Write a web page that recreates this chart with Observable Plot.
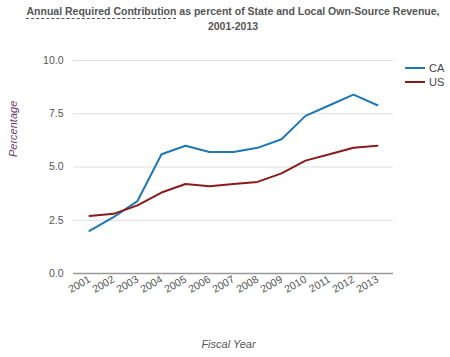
<!DOCTYPE html>
<html><head><meta charset="utf-8">
<script src="https://cdn.jsdelivr.net/npm/d3@7"></script>
<script src="https://cdn.jsdelivr.net/npm/@observablehq/plot@0.6"></script>
<style>
body{margin:0;background:#fff;font-family:"Liberation Sans",Arial,sans-serif;}
#wrap{position:relative;width:450px;height:357px;overflow:hidden;}
#title{position:absolute;left:8px;top:4px;width:450px;text-align:center;font-size:10.5px;font-weight:bold;color:#555;line-height:15px;white-space:nowrap;z-index:2;}
#title u{text-decoration:underline dashed #555;text-underline-offset:3px;color:#555;}
#legend{position:absolute;left:405px;top:61px;font-size:11px;color:#444;}
#legend div{display:flex;align-items:center;height:14px;}
#legend span.sw{display:inline-block;width:20px;height:2px;margin-right:4px;}
</style></head>
<body><div id="wrap">
<div id="title"><u>Annual Required Contribution</u> as percent of State and Local Own-Source Revenue,<br>2001-2013</div>
<div id="legend"></div>
</div>
<script>
const years = ["2001","2002","2003","2004","2005","2006","2007","2008","2009","2010","2011","2012","2013"];
const caValues = [2.0,2.65,3.4,5.6,6.0,5.7,5.7,5.9,6.3,7.4,7.9,8.4,7.9];
const usValues = [2.7,2.8,3.2,3.8,4.2,4.1,4.2,4.3,4.7,5.3,5.6,5.9,6.0];
const seriesNames = ["CA","US"];
const seriesColors = ["#1f78b4","#8b1a1a"];
const yTicks = [0,2.5,5,7.5,10];

const data = [];
years.forEach((y,i)=>{
  data.push({year:y, value:caValues[i], series:"CA"});
  data.push({year:y, value:usValues[i], series:"US"});
});

const chart = Plot.plot({
  width:450, height:357,
  marginTop:60, marginBottom:84, marginLeft:73, marginRight:57,
  style:{fontFamily:"Liberation Sans, Arial, sans-serif", fontSize:"10px", color:"#555", background:"transparent"},
  x:{type:"band", domain:years, padding:0, label:null, tickSize:0, tickRotate:-30, tickPadding:6},
  y:{domain:[0,10], ticks:yTicks, tickFormat:d3.format(".1f"), label:null, tickSize:0, tickPadding:10},
  color:{domain:seriesNames, range:seriesColors},
  marks:[
    Plot.gridY(yTicks.filter(d=>d>0), {stroke:"#ddd", strokeOpacity:1}),
    Plot.ruleY([0], {stroke:"#999", strokeWidth:1.5}),
    Plot.axisX({tickRotate:-30, tickSize:0, tickPadding:5, label:null, fontSize:10.5, fill:"#555"}),
    Plot.axisY({ticks:yTicks, tickFormat:d3.format(".1f"), tickSize:0, tickPadding:10, label:null, fontSize:10.5, fill:"#555"}),
    Plot.lineY(data, {x:"year", y:"value", stroke:"series", strokeWidth:2}),
    Plot.text(["Percentage"], {frameAnchor:"left", dx:-60, dy:-10, rotate:-90, fontStyle:"italic", fontSize:11, fill:"#6b3a6b"}),
    Plot.text(["Fiscal Year"], {frameAnchor:"bottom", dy:74, dx:-5, fontStyle:"italic", fontSize:11, fill:"#555"})
  ]
});
document.getElementById("wrap").prepend(chart);
chart.style.position="absolute"; chart.style.left="0"; chart.style.top="0";
const lg = document.getElementById("legend");
seriesNames.forEach((n,i)=>{
  const d = document.createElement("div");
  d.innerHTML = `<span class="sw" style="background:${seriesColors[i]}"></span>${n}`;
  lg.appendChild(d);
});
</script>
</body></html>
